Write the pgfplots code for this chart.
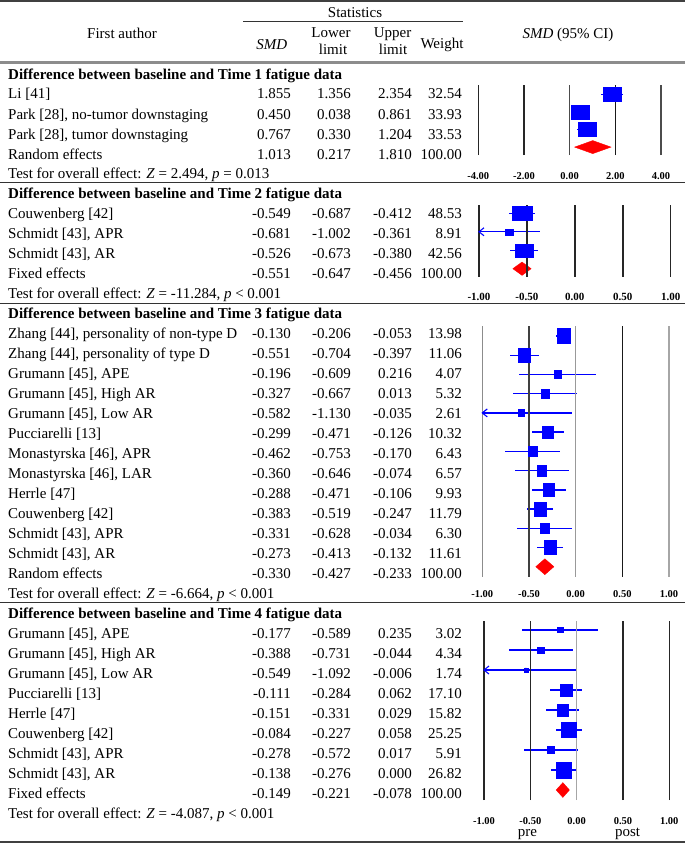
\documentclass[border=0pt]{standalone}
\usepackage{pgfplots}
\pgfplotsset{compat=1.18}
\usepackage{pgfplotstable}
\usepackage{fontspec}
\setmainfont{Liberation Serif}

\pgfdeclareplotmark{larr}{%
 \pgfpathmoveto{\pgfqpoint{5pt}{4pt}}%
 \pgfpathlineto{\pgfqpoint{0pt}{0pt}}%
 \pgfpathlineto{\pgfqpoint{5pt}{-4pt}}%
 \pgfusepathqstroke}

\pgfplotstableread{
i smd lo hi w
0 1.855 1.356 2.354 32.54
-1 0.450 0.038 0.861 33.93
-2 0.767 0.330 1.204 33.53
}\tA
\pgfplotstableread{
i smd lo hi w
0 -0.549 -0.687 -0.412 48.53
-1 -0.681 -1.002 -0.361 8.91
-2 -0.526 -0.673 -0.380 42.56
}\tB
\pgfplotstableread{
i smd lo hi w
0 -0.130 -0.206 -0.053 13.98
-1 -0.551 -0.704 -0.397 11.06
-2 -0.196 -0.609 0.216 4.07
-3 -0.327 -0.667 0.013 5.32
-4 -0.582 -1.130 -0.035 2.61
-5 -0.299 -0.471 -0.126 10.32
-6 -0.462 -0.753 -0.170 6.43
-7 -0.360 -0.646 -0.074 6.57
-8 -0.288 -0.471 -0.106 9.93
-9 -0.383 -0.519 -0.247 11.79
-10 -0.331 -0.628 -0.034 6.30
-11 -0.273 -0.413 -0.132 11.61
}\tC
\pgfplotstableread{
i smd lo hi w
0 -0.177 -0.589 0.235 3.02
-1 -0.388 -0.731 -0.044 4.34
-2 -0.549 -1.092 -0.006 1.74
-3 -0.111 -0.284 0.062 17.10
-4 -0.151 -0.331 0.029 15.82
-5 -0.084 -0.227 0.058 25.25
-6 -0.278 -0.572 0.017 5.91
-7 -0.138 -0.276 0.000 26.82
}\tD

\pgfplotsset{
 forest/.style={scale only axis, anchor=south west, clip=false,
   axis line style={draw=none}, major tick length=0pt, tick style={draw=none},
   ytick=\empty,
   xtick={-1,-0.5,0,0.5,1}, xticklabels={-1.00,-0.50,0.00,0.50,1.00},
   xticklabel style={font=\fontsize{10.5}{12}\selectfont\bfseries, anchor=base, inner sep=0pt}},
 cis/.style={only marks, mark=none, error bars/.cd, x dir=both, x explicit,
   error mark=none, error bar style={draw=blue, line width=1.4pt}},
 sq/.style={scatter, only marks, mark=square*, scatter/use mapped color={draw=blue, fill=blue},
   visualization depends on={sqrt(\thisrow{w})*#1 \as \ms},
   scatter/@pre marker code/.append style={/tikz/mark size=\ms}}
}
\tikzset{vl/.style={line width=1.5pt}}

\newcommand\tr[6]{%
 \node[anchor=base west] at (8,#1) {#2};
 \node[anchor=base east] at (291,#1) {#3};
 \node[anchor=base east] at (351,#1) {#4};
 \node[anchor=base east] at (412,#1) {#5};
 \node[anchor=base east] at (462,#1) {#6};}

\begin{document}
\fontsize{15}{18}\selectfont
\begin{tikzpicture}
\begin{scope}[x=1pt,y=-1pt,every node/.style={inner sep=0pt}]
\path[use as bounding box] (0,0) rectangle (685,843);
% rules
\draw[line width=2pt, black!75] (0,1) -- (685,1);
\draw[line width=0.8pt, black!80] (243,21.7) -- (463,21.7);
\draw[line width=2.2pt, black!45] (0,62.5) -- (685,62.5);
\draw[line width=1.3pt, black!80] (0,182.7) -- (685,182.7);
\draw[line width=1.3pt, black!80] (0,303.3) -- (685,303.3);
\draw[line width=1.3pt, black!80] (0,602.7) -- (685,602.7);
\draw[line width=2pt, black!75] (0,841.7) -- (685,841.7);
% header
\node[anchor=base] at (122,38.3) {First author};
\node[anchor=base] at (355,17.3) {Statistics};
\node[anchor=base] at (271.7,49.5) {\textit{SMD}};
\node[anchor=base] at (331,37.3) {Lower};
\node[anchor=base] at (333,55) {limit};
\node[anchor=base] at (392.5,37.3) {Upper};
\node[anchor=base] at (393,55) {limit};
\node[anchor=base] at (442,48.5) {Weight};
\node[anchor=base] at (568,38.3) {\textit{SMD} (95\% CI)};
% section 1
\node[anchor=base west] at (8,79) {\textbf{Difference between baseline and Time 1 fatigue data}};
\tr{99}{Li [41]}{1.855}{1.356}{2.354}{32.54}
\tr{119}{Park [28], no-tumor downstaging}{0.450}{0.038}{0.861}{33.93}
\tr{139}{Park [28], tumor downstaging}{0.767}{0.330}{1.204}{33.53}
\tr{159}{Random effects}{1.013}{0.217}{1.810}{100.00}
\node[anchor=base west] at (8,178.5) {Test for overall effect: \textit{Z} = 2.494, \textit{p} = 0.013};
% section 2
\node[anchor=base west] at (8,198.3) {\textbf{Difference between baseline and Time 2 fatigue data}};
\tr{218.3}{Couwenberg [42]}{-0.549}{-0.687}{-0.412}{48.53}
\tr{238.3}{Schmidt [43], APR}{-0.681}{-1.002}{-0.361}{8.91}
\tr{258.3}{Schmidt [43], AR}{-0.526}{-0.673}{-0.380}{42.56}
\tr{278.3}{Fixed effects}{-0.551}{-0.647}{-0.456}{100.00}
\node[anchor=base west] at (8,298.3) {Test for overall effect: \textit{Z} = -11.284, \textit{p} < 0.001};
% section 3
\node[anchor=base west] at (8,318.3) {\textbf{Difference between baseline and Time 3 fatigue data}};
\tr{338.3}{Zhang [44], personality of non-type D}{-0.130}{-0.206}{-0.053}{13.98}
\tr{358.3}{Zhang [44], personality of type D}{-0.551}{-0.704}{-0.397}{11.06}
\tr{378.3}{Grumann [45], APE}{-0.196}{-0.609}{0.216}{4.07}
\tr{398.3}{Grumann [45], High AR}{-0.327}{-0.667}{0.013}{5.32}
\tr{418.3}{Grumann [45], Low AR}{-0.582}{-1.130}{-0.035}{2.61}
\tr{438.3}{Pucciarelli [13]}{-0.299}{-0.471}{-0.126}{10.32}
\tr{458.3}{Monastyrska [46], APR}{-0.462}{-0.753}{-0.170}{6.43}
\tr{478.3}{Monastyrska [46], LAR}{-0.360}{-0.646}{-0.074}{6.57}
\tr{498.3}{Herrle [47]}{-0.288}{-0.471}{-0.106}{9.93}
\tr{518.3}{Couwenberg [42]}{-0.383}{-0.519}{-0.247}{11.79}
\tr{538.3}{Schmidt [43], APR}{-0.331}{-0.628}{-0.034}{6.30}
\tr{558.3}{Schmidt [43], AR}{-0.273}{-0.413}{-0.132}{11.61}
\tr{578.3}{Random effects}{-0.330}{-0.427}{-0.233}{100.00}
\node[anchor=base west] at (8,598.3) {Test for overall effect: \textit{Z} = -6.664, \textit{p} < 0.001};
% section 4
\node[anchor=base west] at (8,618.3) {\textbf{Difference between baseline and Time 4 fatigue data}};
\tr{638.3}{Grumann [45], APE}{-0.177}{-0.589}{0.235}{3.02}
\tr{658.3}{Grumann [45], High AR}{-0.388}{-0.731}{-0.044}{4.34}
\tr{678.3}{Grumann [45], Low AR}{-0.549}{-1.092}{-0.006}{1.74}
\tr{698.3}{Pucciarelli [13]}{-0.111}{-0.284}{0.062}{17.10}
\tr{718.3}{Herrle [47]}{-0.151}{-0.331}{0.029}{15.82}
\tr{738.3}{Couwenberg [42]}{-0.084}{-0.227}{0.058}{25.25}
\tr{758.3}{Schmidt [43], APR}{-0.278}{-0.572}{0.017}{5.91}
\tr{778.3}{Schmidt [43], AR}{-0.138}{-0.276}{0.000}{26.82}
\tr{798.3}{Fixed effects}{-0.149}{-0.221}{-0.078}{100.00}
\node[anchor=base west] at (8,818.3) {Test for overall effect: \textit{Z} = -4.087, \textit{p} < 0.001};
\node[anchor=base] at (527.5,836.7) {pre};
\node[anchor=base] at (627.5,836.7) {post};
\end{scope}

% panel 1
\begin{axis}[forest, at={(478.3pt,-155pt)}, width=182.7pt, height=70pt,
  xmin=-4, xmax=4, ymin=-3.449, ymax=0.528,
  xtick={-4,-2,0,2,4}, xticklabels={-4.00,-2.00,0.00,2.00,4.00},
  xticklabel style={yshift=-24.3pt}]
\addplot[cis] table[x=smd, y=i, x error plus expr={\thisrow{hi}-\thisrow{smd}}, x error minus expr={\thisrow{smd}-\thisrow{lo}}] {\tA};
\addplot[sq=1.175, mark options={xscale=1.31}] table[x=smd, y=i] {\tA};
\addplot[draw=red, fill=red] coordinates {(0.217,-3) (1.013,-2.63) (1.810,-3) (1.013,-3.37)} -- cycle;
\draw[vl, black!85] (axis cs:-4,-3.449) -- (axis cs:-4,0.528);
\draw[vl, black!85] (axis cs:-2,-3.449) -- (axis cs:-2,0.528);
\draw[vl, black!70] (axis cs:0,-3.449) -- (axis cs:0,0.528);
\draw[vl, black!90] (axis cs:2,-3.449) -- (axis cs:2,0.528);
\draw[vl, black!70] (axis cs:4,-3.449) -- (axis cs:4,0.528);
\end{axis}

% panel 2
\begin{axis}[forest, at={(479pt,-276.7pt)}, width=191.7pt, height=71.7pt,
  xmin=-1, xmax=1, ymin=-3.433, ymax=0.449,
  xticklabel style={yshift=-24pt, font=\fontsize{11}{12}\selectfont\bfseries}]
\addplot[cis] table[x=smd, y=i, x error plus expr={\thisrow{hi}-\thisrow{smd}}, x error minus expr={\thisrow{smd}-max(\thisrow{lo},-1)}] {\tB};
\addplot[only marks, mark=larr, blue, mark options={line width=1.1pt}] coordinates {(-1,-1)};
\addplot[sq=1.0, mark options={xscale=1.375}] table[x=smd, y=i] {\tB};
\addplot[draw=red, fill=red] coordinates {(-0.647,-3) (-0.551,-2.64) (-0.456,-3) (-0.551,-3.36)} -- cycle;
\draw[vl, black!85] (axis cs:-1,-3.433) -- (axis cs:-1,0.449);
\draw[vl, black!85] (axis cs:-0.5,-3.433) -- (axis cs:-0.5,0.449);
\draw[vl, black!85] (axis cs:0,-3.433) -- (axis cs:0,0.449);
\draw[vl, black!85] (axis cs:0.5,-3.433) -- (axis cs:0.5,0.449);
\draw[vl, black!85] (axis cs:1,-3.433) -- (axis cs:1,0.449);
\end{axis}

% panel 3
\begin{axis}[forest, at={(482.3pt,-576.7pt)}, width=186.7pt, height=250.7pt,
  xmin=-1, xmax=1, ymin=-12.52, ymax=0.52,
  xticklabel style={yshift=-21pt}]
\addplot[cis] table[x=smd, y=i, x error plus expr={\thisrow{hi}-\thisrow{smd}}, x error minus expr={\thisrow{smd}-max(\thisrow{lo},-1)}] {\tC};
\addplot[only marks, mark=larr, blue, mark options={line width=1.1pt}] coordinates {(-1,-4)};
\addplot[sq=2.0, mark options={xscale=0.89}] table[x=smd, y=i] {\tC};
\addplot[draw=red, fill=red] coordinates {(-0.427,-12) (-0.330,-11.59) (-0.233,-12) (-0.330,-12.41)} -- cycle;
\draw[vl, black!45] (axis cs:-1,-12.52) -- (axis cs:-1,0.52);
\draw[vl, black!75] (axis cs:-0.5,-12.52) -- (axis cs:-0.5,0.52);
\draw[vl, black!40] (axis cs:0,-12.52) -- (axis cs:0,0.52);
\draw[vl, black!90] (axis cs:0.5,-12.52) -- (axis cs:0.5,0.52);
\draw[vl, black!35] (axis cs:1,-12.52) -- (axis cs:1,0.52);
\end{axis}

% panel 4
\begin{axis}[forest, at={(484pt,-800pt)}, width=185.3pt, height=179.3pt,
  xmin=-1, xmax=1, ymin=-8.5, ymax=0.465,
  xticklabel style={yshift=-24pt}]
\addplot[cis] table[x=smd, y=i, x error plus expr={\thisrow{hi}-\thisrow{smd}}, x error minus expr={\thisrow{smd}-max(\thisrow{lo},-1)}] {\tD};
\addplot[only marks, mark=larr, blue, mark options={line width=1.1pt}] coordinates {(-1,-2)};
\addplot[sq=1.5] table[x=smd, y=i] {\tD};
\addplot[draw=red, fill=red] coordinates {(-0.221,-8) (-0.149,-7.63) (-0.078,-8) (-0.149,-8.37)} -- cycle;
\draw[vl, black!85] (axis cs:-1,-8.5) -- (axis cs:-1,0.465);
\draw[vl, black!85] (axis cs:-0.5,-8.5) -- (axis cs:-0.5,0.465);
\draw[vl, black!35] (axis cs:0,-8.5) -- (axis cs:0,0.465);
\draw[vl, black!85] (axis cs:0.5,-8.5) -- (axis cs:0.5,0.465);
\draw[vl, black!85] (axis cs:1,-8.5) -- (axis cs:1,0.465);
\end{axis}
\end{tikzpicture}
\end{document}
